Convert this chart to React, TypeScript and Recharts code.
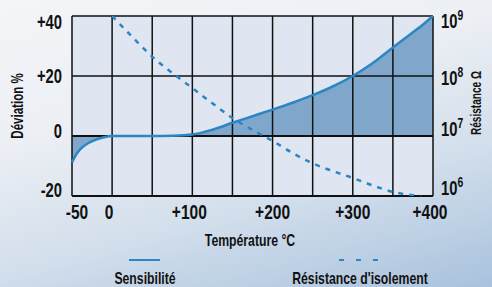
import { ComposedChart, Area, Line, XAxis, YAxis, CartesianGrid, ReferenceLine } from 'recharts'

// Température °C
const temps = [-50, -45, -40, -30, -20, -10, 0, 25, 50, 75, 100, 125, 150, 175, 200, 225, 250, 275, 300, 325, 350, 375, 385, 400]
// Sensibilité (déviation %)
const sensibilite = [-8.8, -6.3, -4.5, -2.4, -1.2, -0.4, 0, 0, 0, 0.1, 0.5, 2.1, 4.4, 6.6, 8.8, 11.1, 13.6, 16.5, 20, 24.3, 29.5, 34.6, 36.6, 40]
// Résistance d'isolement (ohms)
const resistance = [null, null, null, null, null, null, 1e9, 4.5e8, 2.1e8, 1.12e8, 6.3e7, 3.5e7, 2.0e7, 1.26e7, 8.3e6, 5.2e6, 3.5e6, 2.6e6, 2.0e6, 1.5e6, 1.17e6, 1.03e6, 1.0e6, null]

const xTicks = [-50, 0, 50, 100, 150, 200, 250, 300, 350, 400]
const xLabels: Record<number, string> = { [-50]: '-50', 0: '0', 100: '+100', 200: '+200', 300: '+300', 400: '+400' }
const yTicks = [-20, 0, 20, 40]
const yLabels: Record<number, string> = { [-20]: '-20', 0: '0', 20: '+20', 40: '+40' }
const rTicks = [1e6, 1e7, 1e8, 1e9]
const rExp: Record<number, string> = { 1e6: '6', 1e7: '7', 1e8: '8', 1e9: '9' }

const data = temps.map((t, i) => ({ t, sens: sensibilite[i], res: resistance[i] }))

const FONT = '"Liberation Sans", Arial, sans-serif'
const BLUE = '#2b87c2'
const SX = 0.72

const XTick = ({ x, y, payload }: any) => {
  const v = payload.value
  const dx = v === -50 ? 5 : v === 0 ? -3 : v === 400 ? -3 : v === 100 ? -3 : 0
  return (
    <g transform={`translate(${x + dx},${y + 15}) scale(0.74,1)`}>
      <text textAnchor="middle" fontSize={21} fontWeight="bold" fontFamily={FONT} fill="#111">
        {xLabels[v] ?? ''}
      </text>
    </g>
  )
}

const LeftTick = ({ x, y, payload }: any) => {
  const v = payload.value
  const off: Record<number, number> = { 40: 13, 20: 7, 0: 2, [-20]: 1 }
  return (
    <g transform={`translate(${x - 2},${y + (off[v] ?? 0)}) scale(0.74,1)`}>
      <text textAnchor="end" fontSize={20} fontWeight="bold" fontFamily={FONT} fill="#111">
        {yLabels[v]}
      </text>
    </g>
  )
}

const RightTick = ({ x, y, payload }: any) => {
  const v = payload.value
  const off: Record<number, number> = { 1e9: 12, 1e8: 9, 1e7: 0, 1e6: -1 }
  return (
    <g transform={`translate(${x},${y + (off[v] ?? 0)}) scale(0.74,1)`}>
      <text textAnchor="start" fontSize={20} fontWeight="bold" fontFamily={FONT} fill="#111">
        10<tspan dy={-8} fontSize={14}>{rExp[v]}</tspan>
      </text>
    </g>
  )
}

const Narrow = ({ left, top, size, rotate, children }: any) => (
  <div
    style={{
      position: 'absolute', left, top, fontSize: size, fontWeight: 'bold', color: '#111', whiteSpace: 'nowrap',
      lineHeight: 1, transform: `translate(-50%, -50%)${rotate ? ' rotate(-90deg)' : ''} scaleX(${SX})`,
    }}
  >
    {children}
  </div>
)

export default function App() {
  return (
    <div
      style={{
        position: 'absolute', left: 0, top: 0, width: 492, height: 287, overflow: 'hidden',
        background: 'linear-gradient(165deg, #f3f5f8 0%, #eceff4 35%, #d3dfec 65%, #a9c2dd 100%)',
        fontFamily: FONT,
      }}
    >
      <ComposedChart width={492} height={287} data={data} margin={{ top: 16, right: 0, left: 0, bottom: 61 }}>
        <CartesianGrid yAxisId="left" fill="#dfe5f1" stroke="none" />
        <XAxis
          dataKey="t" type="number" domain={[-50, 400]} ticks={xTicks}
          axisLine={false} tickLine={false} tick={<XTick />} height={30} interval={0}
        />
        <YAxis
          yAxisId="left" domain={[-20, 40]} ticks={yTicks} width={72}
          axisLine={false} tickLine={false} tick={<LeftTick />} interval={0}
        />
        <YAxis
          yAxisId="right" orientation="right" scale="log" domain={[1e6, 1e9]} ticks={rTicks} width={59}
          axisLine={false} tickLine={false} tick={<RightTick />} allowDataOverflow interval={0}
        />
        <Area
          yAxisId="left" type="monotone" dataKey="sens" baseValue={0}
          fill="#80a6cc" fillOpacity={1} stroke="none" isAnimationActive={false}
        />
        {xTicks.map(v => (
          <ReferenceLine key={'x' + v} yAxisId="left" x={v} stroke="#111" strokeWidth={1.5} />
        ))}
        {yTicks.map(v => (
          <ReferenceLine key={'y' + v} yAxisId="left" y={v} stroke="#111" strokeWidth={v === -20 || v === 0 ? 2 : 1.5} />
        ))}
        <Line
          yAxisId="left" type="monotone" dataKey="sens" stroke={BLUE} strokeWidth={2.5}
          dot={false} activeDot={false} isAnimationActive={false}
        />
        <Line
          yAxisId="right" type="monotone" dataKey="res" stroke={BLUE} strokeWidth={2.5} strokeDasharray="5 6"
          dot={false} activeDot={false} isAnimationActive={false}
        />
      </ComposedChart>

      {/* titres des axes */}
      <Narrow left={18} top={106} size={16} rotate>Déviation %</Narrow>
      <Narrow left={476} top={103} size={14} rotate>Résistance Ω</Narrow>
      <Narrow left={250} top={240} size={17}>Température °C</Narrow>

      {/* légende */}
      <svg style={{ position: 'absolute', left: 0, top: 0 }} width={492} height={287}>
        <line x1={129} y1={260} x2={160} y2={260} stroke={BLUE} strokeWidth={2} />
        <line x1={339} y1={260} x2={380} y2={260} stroke={BLUE} strokeWidth={2} strokeDasharray="5 12" />
      </svg>
      <Narrow left={145} top={278} size={17}>Sensibilité</Narrow>
      <Narrow left={360} top={278} size={17}>Résistance d'isolement</Narrow>
    </div>
  )
}
